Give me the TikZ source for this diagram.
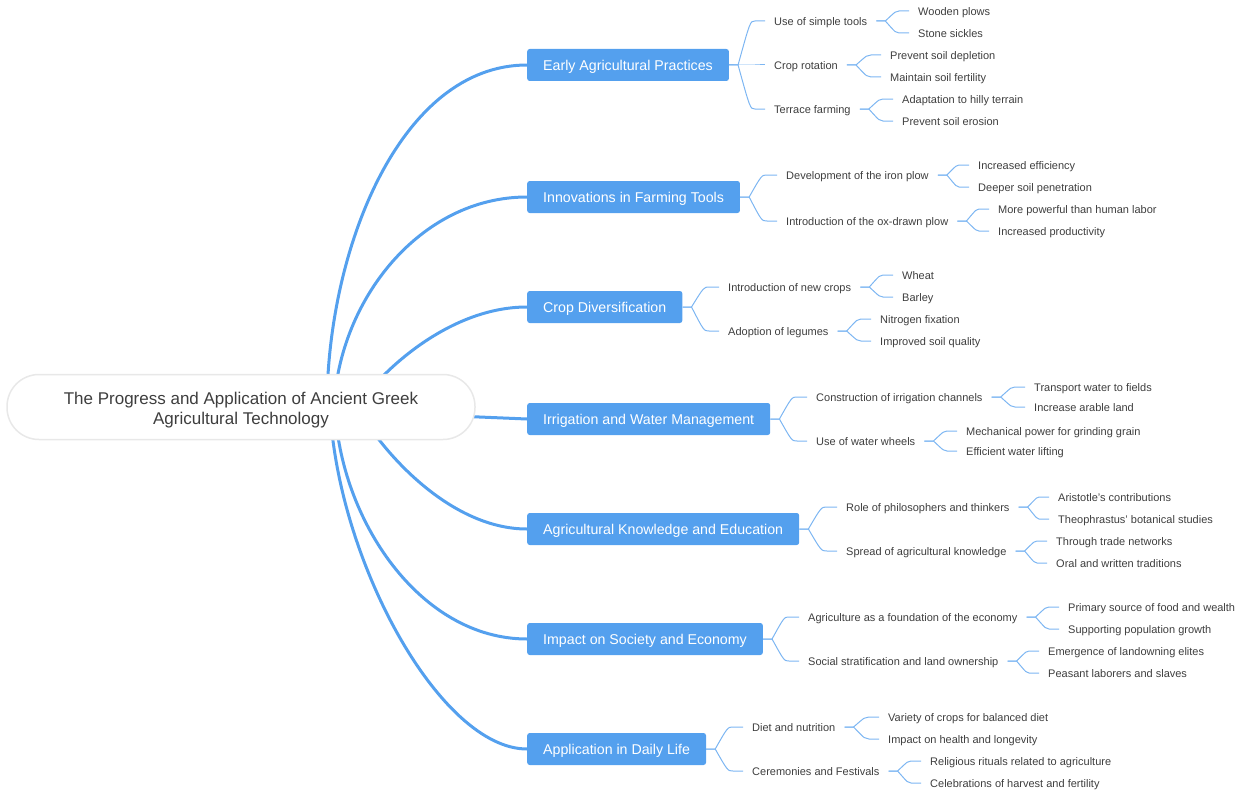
\documentclass[tikz,border=0pt]{standalone}
\usepackage{fontspec}
\setmainfont{Liberation Sans}
\usetikzlibrary{calc,backgrounds}
\definecolor{branchblue}{RGB}{84,160,238}
\definecolor{twigblue}{RGB}{125,182,242}
\definecolor{inkgray}{RGB}{62,62,62}
\tikzset{
  root/.style={draw=black!9, line width=1.5pt, fill=white, rounded corners=32pt,
    minimum width=468pt, minimum height=65pt, align=center, text=inkgray,
    text height=37.5pt, text depth=3.5pt, font=\fontsize{17}{20}\selectfont},
  branch/.style={anchor=west, fill=branchblue, rounded corners=2.5pt, text=white,
    minimum height=32pt, inner xsep=16pt, text height=14pt, text depth=3pt,
    font=\fontsize{14.2}{16}\selectfont},
  leaf/.style={anchor=west, inner xsep=9pt, inner ysep=1pt, text=inkgray,
    text height=11pt, text depth=2.5pt, font=\fontsize{11}{13}\selectfont},
  trunk/.style={draw=branchblue, line width=3pt, line cap=round},
  twig/.style={draw=twigblue, line width=1pt,
    to path={-- ++(9,0) coordinate (jn)
      .. controls ($(jn |- \tikztotarget)!0.45!(\tikztotarget)$) .. ($(\tikztotarget)+(-10,0)$)
      -- (\tikztotarget)}}
}
\begin{document}
\begin{tikzpicture}[x=1pt,y=-1pt]
\useasboundingbox (0,0) rectangle (1240,792);

\node[root] (root) at (241,407) {The Progress and Application of Ancient Greek\\Agricultural Technology};

\node[branch] (b1) at (527,65) {Early Agricultural Practices};
\node[branch] (b2) at (527,197) {Innovations in Farming Tools};
\node[branch] (b3) at (527,307) {Crop Diversification};
\node[branch] (b4) at (527,419) {Irrigation and Water Management};
\node[branch] (b5) at (527,529) {Agricultural Knowledge and Education};
\node[branch] (b6) at (527,639) {Impact on Society and Economy};
\node[branch] (b7) at (527,749) {Application in Daily Life};

\node[leaf] (c11) at (765,21) {Use of simple tools};
\node[leaf] (c12) at (765,65) {Crop rotation};
\node[leaf] (c13) at (765,109) {Terrace farming};
\node[leaf] (d111) at (909,11) {Wooden plows};
\node[leaf] (d112) at (909,33) {Stone sickles};
\node[leaf] (d121) at (881,55) {Prevent soil depletion};
\node[leaf] (d122) at (881,77) {Maintain soil fertility};
\node[leaf] (d131) at (893,99) {Adaptation to hilly terrain};
\node[leaf] (d132) at (893,121) {Prevent soil erosion};

\node[leaf] (c21) at (777,175) {Development of the iron plow};
\node[leaf] (c22) at (777,221) {Introduction of the ox-drawn plow};
\node[leaf] (d211) at (969,165) {Increased efficiency};
\node[leaf] (d212) at (969,187) {Deeper soil penetration};
\node[leaf] (d221) at (989,209) {More powerful than human labor};
\node[leaf] (d222) at (989,231) {Increased productivity};

\node[leaf] (c31) at (719,287) {Introduction of new crops};
\node[leaf] (c32) at (719,331) {Adoption of legumes};
\node[leaf] (d311) at (893,275) {Wheat};
\node[leaf] (d312) at (893,297) {Barley};
\node[leaf] (d321) at (871,319) {Nitrogen fixation};
\node[leaf] (d322) at (871,341) {Improved soil quality};

\node[leaf] (c41) at (807,397) {Construction of irrigation channels};
\node[leaf] (c42) at (807,441) {Use of water wheels};
\node[leaf] (d411) at (1025,387) {Transport water to fields};
\node[leaf] (d412) at (1025,407) {Increase arable land};
\node[leaf] (d421) at (957,431) {Mechanical power for grinding grain};
\node[leaf] (d422) at (957,451) {Efficient water lifting};

\node[leaf] (c51) at (837,507) {Role of philosophers and thinkers};
\node[leaf] (c52) at (837,551) {Spread of agricultural knowledge};
\node[leaf] (d511) at (1049,497) {Aristotle's contributions};
\node[leaf] (d512) at (1049,519) {Theophrastus' botanical studies};
\node[leaf] (d521) at (1047,541) {Through trade networks};
\node[leaf] (d522) at (1047,563) {Oral and written traditions};

\node[leaf] (c61) at (799,617) {Agriculture as a foundation of the economy};
\node[leaf] (c62) at (799,661) {Social stratification and land ownership};
\node[leaf] (d611) at (1059,607) {Primary source of food and wealth};
\node[leaf] (d612) at (1059,629) {Supporting population growth};
\node[leaf] (d621) at (1039,651) {Emergence of landowning elites};
\node[leaf] (d622) at (1039,673) {Peasant laborers and slaves};

\node[leaf] (c71) at (743,727) {Diet and nutrition};
\node[leaf] (c72) at (743,771) {Ceremonies and Festivals};
\node[leaf] (d711) at (879,717) {Variety of crops for balanced diet};
\node[leaf] (d712) at (879,739) {Impact on health and longevity};
\node[leaf] (d721) at (921,761) {Religious rituals related to agriculture};
\node[leaf] (d722) at (921,783) {Celebrations of harvest and fertility};

\foreach \p/\c in {b1/c11,b1/c12,b1/c13,b2/c21,b2/c22,b3/c31,b3/c32,b4/c41,b4/c42,
    b5/c51,b5/c52,b6/c61,b6/c62,b7/c71,b7/c72,
    c11/d111,c11/d112,c12/d121,c12/d122,c13/d131,c13/d132,
    c21/d211,c21/d212,c22/d221,c22/d222,c31/d311,c31/d312,c32/d321,c32/d322,
    c41/d411,c41/d412,c42/d421,c42/d422,c51/d511,c51/d512,c52/d521,c52/d522,
    c61/d611,c61/d612,c62/d621,c62/d622,c71/d711,c71/d712,c72/d721,c72/d722}
  \draw[twig] (\p.east) to (\c.west);

\begin{pgfonlayer}{background}
\draw[trunk] ($(root.center)+(86,0)$) .. controls +(0,-157) and +(-127,0) .. (b1.west);
\draw[trunk] ($(root.center)+(93,0)$) .. controls +(5,-107) and +(-107,0) .. (b2.west);
\draw[trunk] ($(root.center)+(116,0)$) .. controls +(25,-37) and +(-77,0) .. (b3.west);
\draw[trunk] (root.center) -- (b4.west);
\draw[trunk] ($(root.center)+(116,0)$) .. controls +(25,45) and +(-77,0) .. (b5.west);
\draw[trunk] ($(root.center)+(94,0)$) .. controls +(5,113) and +(-107,0) .. (b6.west);
\draw[trunk] ($(root.center)+(89,0)$) .. controls +(7,153) and +(-87,0) .. (b7.west);
\end{pgfonlayer}
\end{tikzpicture}
\end{document}
